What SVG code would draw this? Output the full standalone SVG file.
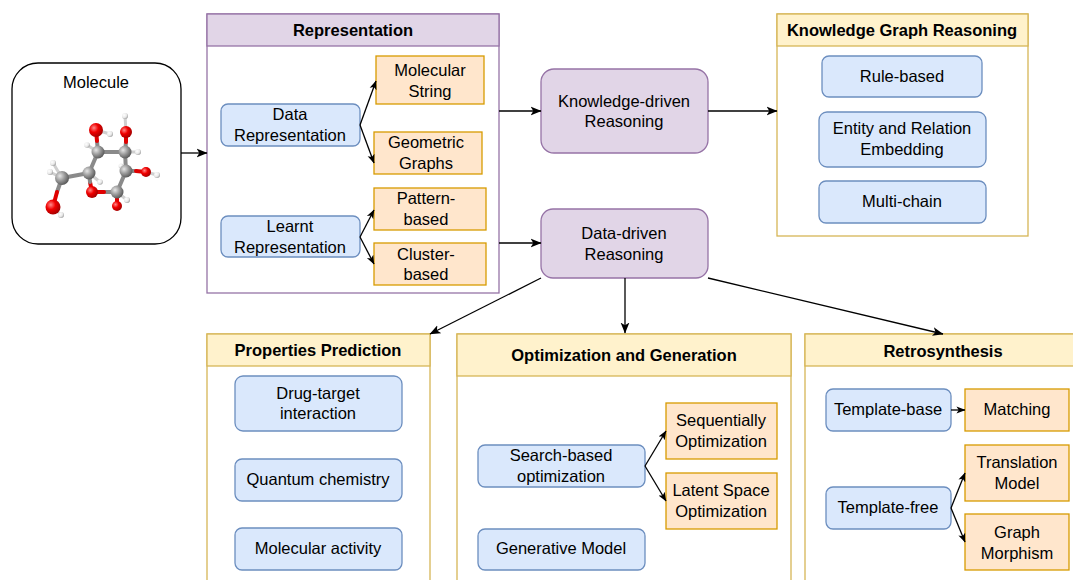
<svg xmlns="http://www.w3.org/2000/svg" width="1073" height="580" viewBox="0 0 1073 580">
<defs>
<style>
text{font-family:"Liberation Sans",Arial,sans-serif;font-size:16.5px;fill:#000;text-anchor:middle}
.b{font-weight:bold}
.blue{fill:#dae8fc;stroke:#6c8ebf;stroke-width:1.3}
.org{fill:#ffe6cc;stroke:#d79b00;stroke-width:1.3}
.pur{fill:#e1d5e7;stroke:#9673a6;stroke-width:1.3}
.yel{fill:#fff2cc;stroke:#d6b656;stroke-width:1.3}
.wht{fill:#fff;stroke:#d6b656;stroke-width:1.3}
.whp{fill:#fff;stroke:#9673a6;stroke-width:1.3}
.e{fill:none;stroke:#000;stroke-width:1.3}
.bd{stroke:#8a8a8a;stroke-width:4;stroke-linecap:round}
.bo{stroke:#e00000;stroke-width:4;stroke-linecap:round}
.bh{stroke:#cfcfcf;stroke-width:3;stroke-linecap:round}
</style>
<marker id="a" viewBox="0 0 10 10" refX="9.5" refY="5" markerWidth="11" markerHeight="11" markerUnits="userSpaceOnUse" orient="auto"><path d="M0,1 L10,5 L0,9 L2.5,5 z" fill="#000"/></marker>
<marker id="s" viewBox="0 0 10 10" refX="9.5" refY="5" markerWidth="9" markerHeight="9" markerUnits="userSpaceOnUse" orient="auto"><path d="M0,1 L10,5 L0,9 L2.5,5 z" fill="#000"/></marker>
<radialGradient id="gC" cx="35%" cy="35%" r="70%"><stop offset="0" stop-color="#e6e6e6"/><stop offset="0.5" stop-color="#9a9a9a"/><stop offset="1" stop-color="#555"/></radialGradient>
<radialGradient id="gO" cx="35%" cy="35%" r="70%"><stop offset="0" stop-color="#ff8a8a"/><stop offset="0.45" stop-color="#f00000"/><stop offset="1" stop-color="#a00000"/></radialGradient>
<radialGradient id="gH" cx="35%" cy="35%" r="70%"><stop offset="0" stop-color="#ffffff"/><stop offset="0.6" stop-color="#e8e8e8"/><stop offset="1" stop-color="#a0a0a0"/></radialGradient>
</defs>
<rect width="1073" height="580" fill="#fff"/>

<g id="molecule">
<rect x="12" y="63" width="169" height="181" rx="26" fill="#fff" stroke="#000" stroke-width="1.3"/>
<text x="96" y="88">Molecule</text>
<g>
<line class="bh" x1="96" y1="130" x2="110" y2="134"/>
<line class="bh" x1="98" y1="152" x2="87" y2="145"/>
<line class="bh" x1="126" y1="132" x2="125" y2="116"/>
<line class="bh" x1="125" y1="152" x2="138" y2="152"/>
<line class="bh" x1="126" y1="171" x2="121" y2="166"/>
<line class="bh" x1="146" y1="172" x2="157" y2="175"/>
<line class="bh" x1="117" y1="192" x2="127" y2="200"/>
<line class="bh" x1="89" y1="173" x2="100" y2="182"/>
<line class="bh" x1="62" y1="178" x2="53" y2="163"/>
<line class="bh" x1="62" y1="178" x2="50" y2="172"/>
<line class="bh" x1="53" y1="207" x2="61" y2="215"/>
<line class="bd" x1="98" y1="152" x2="97" y2="141"/><line class="bo" x1="97" y1="141" x2="96" y2="130"/>
<line class="bd" x1="98" y1="152" x2="125" y2="152"/>
<line class="bd" x1="125" y1="152" x2="126" y2="142"/><line class="bo" x1="126" y1="142" x2="126" y2="132"/>
<line class="bd" x1="125" y1="152" x2="126" y2="171"/>
<line class="bd" x1="126" y1="171" x2="136" y2="171"/><line class="bo" x1="136" y1="171" x2="146" y2="172"/>
<line class="bd" x1="126" y1="171" x2="117" y2="192"/>
<line class="bd" x1="117" y1="192" x2="117" y2="199"/><line class="bo" x1="117" y1="199" x2="117" y2="206"/>
<line class="bd" x1="117" y1="192" x2="104" y2="192"/><line class="bo" x1="104" y1="192" x2="92" y2="192"/>
<line class="bo" x1="92" y1="192" x2="90" y2="182"/><line class="bd" x1="90" y1="182" x2="89" y2="173"/>
<line class="bd" x1="89" y1="173" x2="98" y2="152"/>
<line class="bd" x1="89" y1="173" x2="62" y2="178"/>
<line class="bd" x1="62" y1="178" x2="57" y2="192"/><line class="bo" x1="57" y1="192" x2="53" y2="207"/>
<circle cx="110" cy="134" r="3" fill="url(#gH)"/>
<circle cx="87" cy="145" r="2.8" fill="url(#gH)"/>
<circle cx="125" cy="116" r="3" fill="url(#gH)"/>
<circle cx="138" cy="152" r="3" fill="url(#gH)"/>
<circle cx="121" cy="166" r="2.5" fill="url(#gH)"/>
<circle cx="157" cy="175" r="3" fill="url(#gH)"/>
<circle cx="127" cy="200" r="3" fill="url(#gH)"/>
<circle cx="53" cy="163" r="3" fill="url(#gH)"/>
<circle cx="50" cy="172" r="3" fill="url(#gH)"/>
<circle cx="61" cy="215" r="3" fill="url(#gH)"/>
<circle cx="96" cy="130" r="7" fill="url(#gO)"/>
<circle cx="98" cy="152" r="6.5" fill="url(#gC)"/>
<circle cx="126" cy="132" r="6" fill="url(#gO)"/>
<circle cx="125" cy="152" r="6.5" fill="url(#gC)"/>
<circle cx="126" cy="171" r="6.5" fill="url(#gC)"/>
<circle cx="146" cy="172" r="5" fill="url(#gO)"/>
<circle cx="92" cy="192" r="6" fill="url(#gO)"/>
<circle cx="89" cy="173" r="6.5" fill="url(#gC)"/>
<circle cx="100" cy="182" r="2.8" fill="url(#gH)"/>
<circle cx="117" cy="192" r="6.5" fill="url(#gC)"/>
<circle cx="117" cy="206" r="5" fill="url(#gO)"/>
<circle cx="62" cy="178" r="7" fill="url(#gC)"/>
<circle cx="53" cy="207" r="7.5" fill="url(#gO)"/>
</g>
</g>

<g id="representation">
<rect class="whp" x="207" y="14" width="292" height="279"/>
<rect class="pur" x="207" y="14" width="292" height="32"/>
<text class="b" x="353" y="36">Representation</text>
</g>
<g id="data-rep"><rect class="blue" x="221" y="104" width="139" height="42" rx="7"/><text x="290" y="120">Data</text><text x="290" y="141">Representation</text></g>
<g id="mol-string"><rect class="org" x="376" y="56" width="108" height="48"/><text x="430" y="76">Molecular</text><text x="430" y="97">String</text></g>
<g id="geo-graphs"><rect class="org" x="374" y="132" width="108" height="42"/><text x="426" y="148">Geometric</text><text x="426" y="169">Graphs</text></g>
<g id="learnt-rep"><rect class="blue" x="221" y="216" width="139" height="41" rx="7"/><text x="290" y="232">Learnt</text><text x="290" y="253">Representation</text></g>
<g id="pattern"><rect class="org" x="374" y="188" width="112" height="42"/><text x="426" y="204">Pattern-</text><text x="426" y="225">based</text></g>
<g id="cluster"><rect class="org" x="374" y="243" width="112" height="42"/><text x="426" y="260">Cluster-</text><text x="426" y="280">based</text></g>

<g id="knowledge-driven"><rect class="pur" x="541" y="69" width="167" height="84" rx="13"/><text x="624" y="107">Knowledge-driven</text><text x="624" y="127">Reasoning</text></g>
<g id="data-driven"><rect class="pur" x="541" y="209" width="167" height="69" rx="12"/><text x="624" y="239">Data-driven</text><text x="624" y="260">Reasoning</text></g>

<g id="kg-reasoning">
<rect class="wht" x="777" y="14" width="251" height="222"/>
<rect class="yel" x="777" y="14" width="251" height="32"/>
<text class="b" x="902" y="36">Knowledge Graph Reasoning</text>
</g>
<g id="rule"><rect class="blue" x="822" y="56" width="160" height="41" rx="7"/><text x="902" y="82">Rule-based</text></g>
<g id="entity"><rect class="blue" x="819" y="112" width="167" height="55" rx="8"/><text x="902" y="134">Entity and Relation</text><text x="902" y="155">Embedding</text></g>
<g id="multichain"><rect class="blue" x="819" y="181" width="167" height="42" rx="7"/><text x="902" y="207">Multi-chain</text></g>

<g id="properties">
<rect class="wht" x="207" y="334" width="223" height="260"/>
<rect class="yel" x="207" y="334" width="223" height="32"/>
<text class="b" x="318" y="356">Properties Prediction</text>
</g>
<g id="drug"><rect class="blue" x="235" y="376" width="167" height="55" rx="8"/><text x="318" y="399">Drug-target</text><text x="318" y="419">interaction</text></g>
<g id="quantum"><rect class="blue" x="235" y="459" width="167" height="42" rx="7"/><text x="318" y="485">Quantum chemistry</text></g>
<g id="activity"><rect class="blue" x="235" y="528" width="167" height="42" rx="7"/><text x="318" y="554">Molecular activity</text></g>

<g id="optimization">
<rect class="wht" x="457" y="334" width="334" height="260"/>
<rect class="yel" x="457" y="334" width="334" height="42"/>
<text class="b" x="624" y="361">Optimization and Generation</text>
</g>
<g id="search"><rect class="blue" x="478" y="445" width="167" height="42" rx="7"/><text x="561" y="461">Search-based</text><text x="561" y="482">optimization</text></g>
<g id="sequential"><rect class="org" x="666" y="403" width="111" height="56"/><text x="721" y="426">Sequentially</text><text x="721" y="447">Optimization</text></g>
<g id="latent"><rect class="org" x="666" y="473" width="111" height="56"/><text x="721" y="496">Latent Space</text><text x="721" y="517">Optimization</text></g>
<g id="generative"><rect class="blue" x="478" y="529" width="167" height="41" rx="7"/><text x="561" y="554">Generative Model</text></g>

<g id="retrosynthesis">
<rect class="wht" x="805" y="334" width="280" height="260"/>
<rect class="yel" x="805" y="334" width="280" height="32"/>
<text class="b" x="943" y="357">Retrosynthesis</text>
</g>
<g id="template-base"><rect class="blue" x="826" y="389" width="125" height="42" rx="7"/><text x="888" y="415">Template-base</text></g>
<g id="matching"><rect class="org" x="965" y="389" width="104" height="42"/><text x="1017" y="415">Matching</text></g>
<g id="template-free"><rect class="blue" x="826" y="487" width="125" height="42" rx="7"/><text x="888" y="513">Template-free</text></g>
<g id="translation"><rect class="org" x="965" y="445" width="104" height="56"/><text x="1017" y="468">Translation</text><text x="1017" y="489">Model</text></g>
<g id="morphism"><rect class="org" x="965" y="514" width="104" height="56"/><text x="1017" y="538">Graph</text><text x="1017" y="559">Morphism</text></g>

<g id="connectors">
<line class="e" x1="181" y1="153" x2="207" y2="153" marker-end="url(#a)"/>
<line class="e" x1="360" y1="125" x2="376" y2="81" marker-end="url(#s)"/>
<line class="e" x1="360" y1="125" x2="374" y2="163" marker-end="url(#s)"/>
<line class="e" x1="360" y1="237" x2="374" y2="210" marker-end="url(#s)"/>
<line class="e" x1="360" y1="237" x2="374" y2="264" marker-end="url(#s)"/>
<line class="e" x1="499" y1="111" x2="541" y2="111" marker-end="url(#a)"/>
<line class="e" x1="499" y1="243" x2="541" y2="243" marker-end="url(#a)"/>
<line class="e" x1="708" y1="111" x2="777" y2="111" marker-end="url(#a)"/>
<line class="e" x1="625" y1="278" x2="625" y2="333" marker-end="url(#a)"/>
<line class="e" x1="541" y1="278" x2="430" y2="334" marker-end="url(#a)"/>
<line class="e" x1="708" y1="278" x2="943" y2="334" marker-end="url(#a)"/>
<line class="e" x1="645" y1="466" x2="666" y2="431" marker-end="url(#s)"/>
<line class="e" x1="645" y1="466" x2="666" y2="501" marker-end="url(#s)"/>
<line class="e" x1="951" y1="410" x2="965" y2="410" marker-end="url(#s)"/>
<line class="e" x1="951" y1="508" x2="965" y2="473" marker-end="url(#s)"/>
<line class="e" x1="951" y1="508" x2="965" y2="542" marker-end="url(#s)"/>
</g>
</svg>
